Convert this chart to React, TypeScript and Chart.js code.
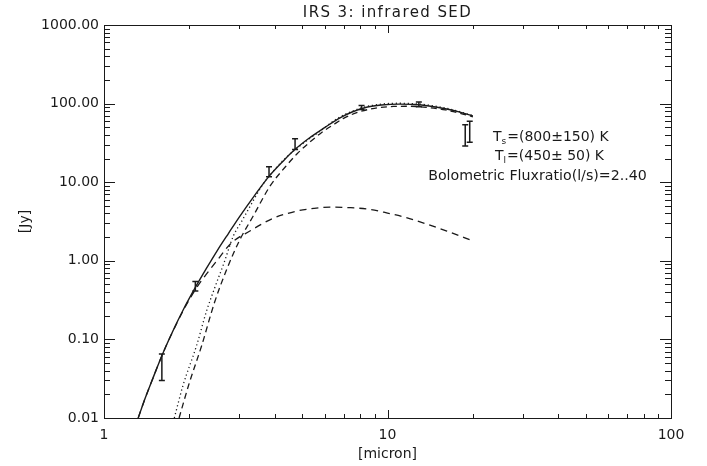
import React, { useEffect, useRef } from "react";
import { Chart, registerables } from "chart.js";
Chart.register(...registerables);

const xTickLabels = [1, 10, 100];
const yTickLabels = [0.01, 0.1, 1, 10, 100, 1000];

const titleText = "IRS 3: infrared SED";
const xTitle = "[micron]";
const yTitle = "[Jy]";

// total model (solid)
const totalX = [1.32, 1.4, 1.5, 1.6, 1.75, 1.9, 2.1, 2.3, 2.5, 2.75, 3.0, 3.4, 3.8, 4.3, 4.7, 5.3, 6.0, 6.7, 7.5, 8.5, 9.5, 11, 12.5, 14, 16, 18, 20];
const totalY = [0.01, 0.0182, 0.0346, 0.0621, 0.128, 0.235, 0.458, 0.805, 1.32, 2.24, 3.6, 6.8, 11.6, 18.8, 25.8, 36.5, 49.5, 64, 78.2, 90.5, 96.0, 98.6, 97.5, 93.3, 85.9, 77.8, 69.5];

// large-grain component (dashed)
const largeX = [1.84, 2.0, 2.21, 2.45, 2.71, 3.02, 3.36, 3.85, 4.35, 4.8, 5.33, 5.86, 6.5, 7.0, 7.9, 9, 10.5, 12, 14, 16, 18, 20];
const largeY = [0.01, 0.028, 0.083, 0.29, 0.78, 1.88, 3.71, 8.9, 15.5, 23, 32.5, 43, 55, 65, 78, 87, 92, 92.5, 89, 83, 75.5, 68];

// small-grain component (dashed)
const smallX = [1.32, 1.4, 1.5, 1.6, 1.75, 1.9, 2.1, 2.3, 2.5, 2.82, 3.27, 3.95, 4.78, 5.5, 6.27, 7.3, 8.67, 10, 11.65, 13.5, 16.2, 20];
const smallY = [0.01, 0.0182, 0.0345, 0.062, 0.127, 0.23, 0.43, 0.68, 1.0, 1.7, 2.39, 3.47, 4.29, 4.65, 4.83, 4.75, 4.51, 4.05, 3.54, 3.0, 2.39, 1.79];

// single-temperature fit (dotted)
const dottedX = [1.77, 1.9, 2.12, 2.3, 2.46, 2.65, 2.86, 3.05, 3.23, 3.6, 4.0, 4.4, 5.0, 5.7, 6.7, 8, 9.5, 11, 13, 16, 20];
const dottedY = [0.01, 0.026, 0.083, 0.23, 0.457, 0.94, 2.07, 3.12, 4.5, 8.9, 14.5, 20.8, 30.5, 43, 65.5, 87, 98.5, 101, 98.5, 88, 70.5];

// photometry with error bars
const errX = [1.6, 2.1, 3.82, 4.72, 8.1, 12.9, 18.8, 19.5];
const errLo = [0.03, 0.413, 11.75, 26.1, 84, 91, 28.8, 32.3];
const errHi = [0.065, 0.544, 15.7, 35.7, 94.6, 105, 54, 59.7];

const FONT = "DejaVu Sans";
const INK = "#1a1a1a";

function pts(xs: number[], ys: number[]) {
  return xs.map((x, i) => ({ x, y: ys[i] }));
}

const framePlugin = {
  id: "idlFrame",
  afterDatasetsDraw(chart: any) {
    const ctx = chart.ctx as CanvasRenderingContext2D;
    const { left, right, top, bottom } = chart.chartArea;
    const xs = chart.scales.x;
    const ys = chart.scales.y;
    ctx.save();
    // error bars
    ctx.strokeStyle = INK;
    ctx.lineWidth = 1.5;
    for (let i = 0; i < errX.length; i++) {
      const px = xs.getPixelForValue(errX[i]);
      const p1 = ys.getPixelForValue(errLo[i]);
      const p2 = ys.getPixelForValue(errHi[i]);
      ctx.beginPath();
      ctx.moveTo(px, p1);
      ctx.lineTo(px, p2);
      ctx.moveTo(px - 3, p1);
      ctx.lineTo(px + 3, p1);
      ctx.moveTo(px - 3, p2);
      ctx.lineTo(px + 3, p2);
      ctx.stroke();
    }
    // frame
    ctx.lineWidth = 1;
    ctx.strokeStyle = INK;
    ctx.strokeRect(left + 0.5, top + 0.5, right - left, bottom - top);
    ctx.beginPath();
    // x ticks
    for (let d = 0; d < 2; d++) {
      for (let m = 1; m <= 10; m++) {
        const v = m * Math.pow(10, d);
        if (v > 100) continue;
        const px = Math.round(xs.getPixelForValue(v)) + 0.5;
        const major = m === 1 || m === 10;
        const len = major ? 8 : 4;
        ctx.moveTo(px, bottom);
        ctx.lineTo(px, bottom - len);
        ctx.moveTo(px, top);
        ctx.lineTo(px, top + len);
      }
    }
    // y ticks
    for (let d = -2; d < 3; d++) {
      for (let m = 1; m <= 10; m++) {
        const v = m * Math.pow(10, d);
        const py = Math.round(ys.getPixelForValue(v)) + 0.5;
        const major = m === 1 || m === 10;
        const len = major ? 11 : 6;
        ctx.moveTo(left, py);
        ctx.lineTo(left + len, py);
        ctx.moveTo(right, py);
        ctx.lineTo(right - len, py);
      }
    }
    ctx.stroke();

    // titles
    ctx.fillStyle = INK;
    ctx.font = `15px "${FONT}"`;
    (ctx as any).letterSpacing = "1.4px";
    ctx.textAlign = "center";
    ctx.textBaseline = "alphabetic";
    ctx.fillText(titleText, (left + right) / 2, 17);
    (ctx as any).letterSpacing = "0px";
    ctx.font = `14px "${FONT}"`;
    ctx.fillText(xTitle, (left + right) / 2, 458);
    ctx.save();
    ctx.translate(29, (top + bottom) / 2);
    ctx.rotate(-Math.PI / 2);
    ctx.fillText(yTitle, 0, 0);
    ctx.restore();

    // annotation
    ctx.textAlign = "left";
    const drawSub = (x: number, y: number, main: string, sub: string, rest: string) => {
      ctx.font = `14px "${FONT}"`;
      ctx.fillText(main, x, y);
      let w = ctx.measureText(main).width;
      ctx.font = `9px "${FONT}"`;
      ctx.fillText(sub, x + w, y + 3);
      w += ctx.measureText(sub).width + 1;
      ctx.font = `14px "${FONT}"`;
      ctx.fillText(rest, x + w, y);
    };
    drawSub(493, 141, "T", "s", "=(800\u00b1150) K");
    drawSub(495, 160, "T", "l", "=(450\u00b1 50) K");
    ctx.font = `14.2px "${FONT}"`;
    ctx.textAlign = "center";
    ctx.fillText("Bolometric Fluxratio(l/s)=2..40", 537.5, 180);
    ctx.restore();
  },
};

export default function App() {
  const ref = useRef<HTMLCanvasElement | null>(null);
  useEffect(() => {
    document.body.style.margin = "0";
    const canvas = ref.current!;
    const line = (label: string, data: any, dash: number[], width = 1.3) => ({
      label,
      data,
      showLine: true,
      borderColor: INK,
      backgroundColor: INK,
      borderWidth: width,
      borderDash: dash,
      pointRadius: 0,
      pointHoverRadius: 0,
      cubicInterpolationMode: "monotone" as const,
      fill: false,
    });
    const chart = new Chart(canvas, {
      type: "scatter",
      data: {
        datasets: [
          line("total", pts(totalX, totalY), [], 1.4),
          line("large", pts(largeX, largeY), [6, 4]),
          line("small", pts(smallX, smallY), [7, 5]),
          line("single", pts(dottedX, dottedY), [1.2, 2.8]),
        ],
      },
      options: {
        responsive: false,
        animation: false,
        devicePixelRatio: 1,
        layout: { padding: { top: 25, right: 36, left: 0, bottom: 0 } },
        plugins: { legend: { display: false }, tooltip: { enabled: false }, title: { display: false } },
        events: [],
        scales: {
          x: {
            type: "logarithmic",
            min: 1,
            max: 100,
            grid: { display: false, drawTicks: false },
            border: { display: false },
            ticks: {
              color: INK,
              font: { family: FONT, size: 14 },
              padding: 9,
              maxRotation: 0,
              autoSkip: false,
              callback: (v: any) => String(v),
            },
            afterBuildTicks: (s: any) => {
              s.ticks = xTickLabels.map((v) => ({ value: v }));
            },
            afterFit: (s: any) => {
              s.height = 48;
            },
          },
          y: {
            type: "logarithmic",
            min: 0.01,
            max: 1000,
            grid: { display: false, drawTicks: false },
            border: { display: false },
            ticks: {
              color: INK,
              font: { family: FONT, size: 14 },
              padding: 5,
              autoSkip: false,
              callback: (v: any) => Number(v).toFixed(2),
            },
            afterBuildTicks: (s: any) => {
              s.ticks = yTickLabels.map((v) => ({ value: v }));
            },
            afterFit: (s: any) => {
              s.width = 104;
            },
          },
        },
      },
      plugins: [framePlugin],
    });
    return () => chart.destroy();
  }, []);
  return <canvas ref={ref} width={707} height={466} style={{ display: "block" }} />;
}
